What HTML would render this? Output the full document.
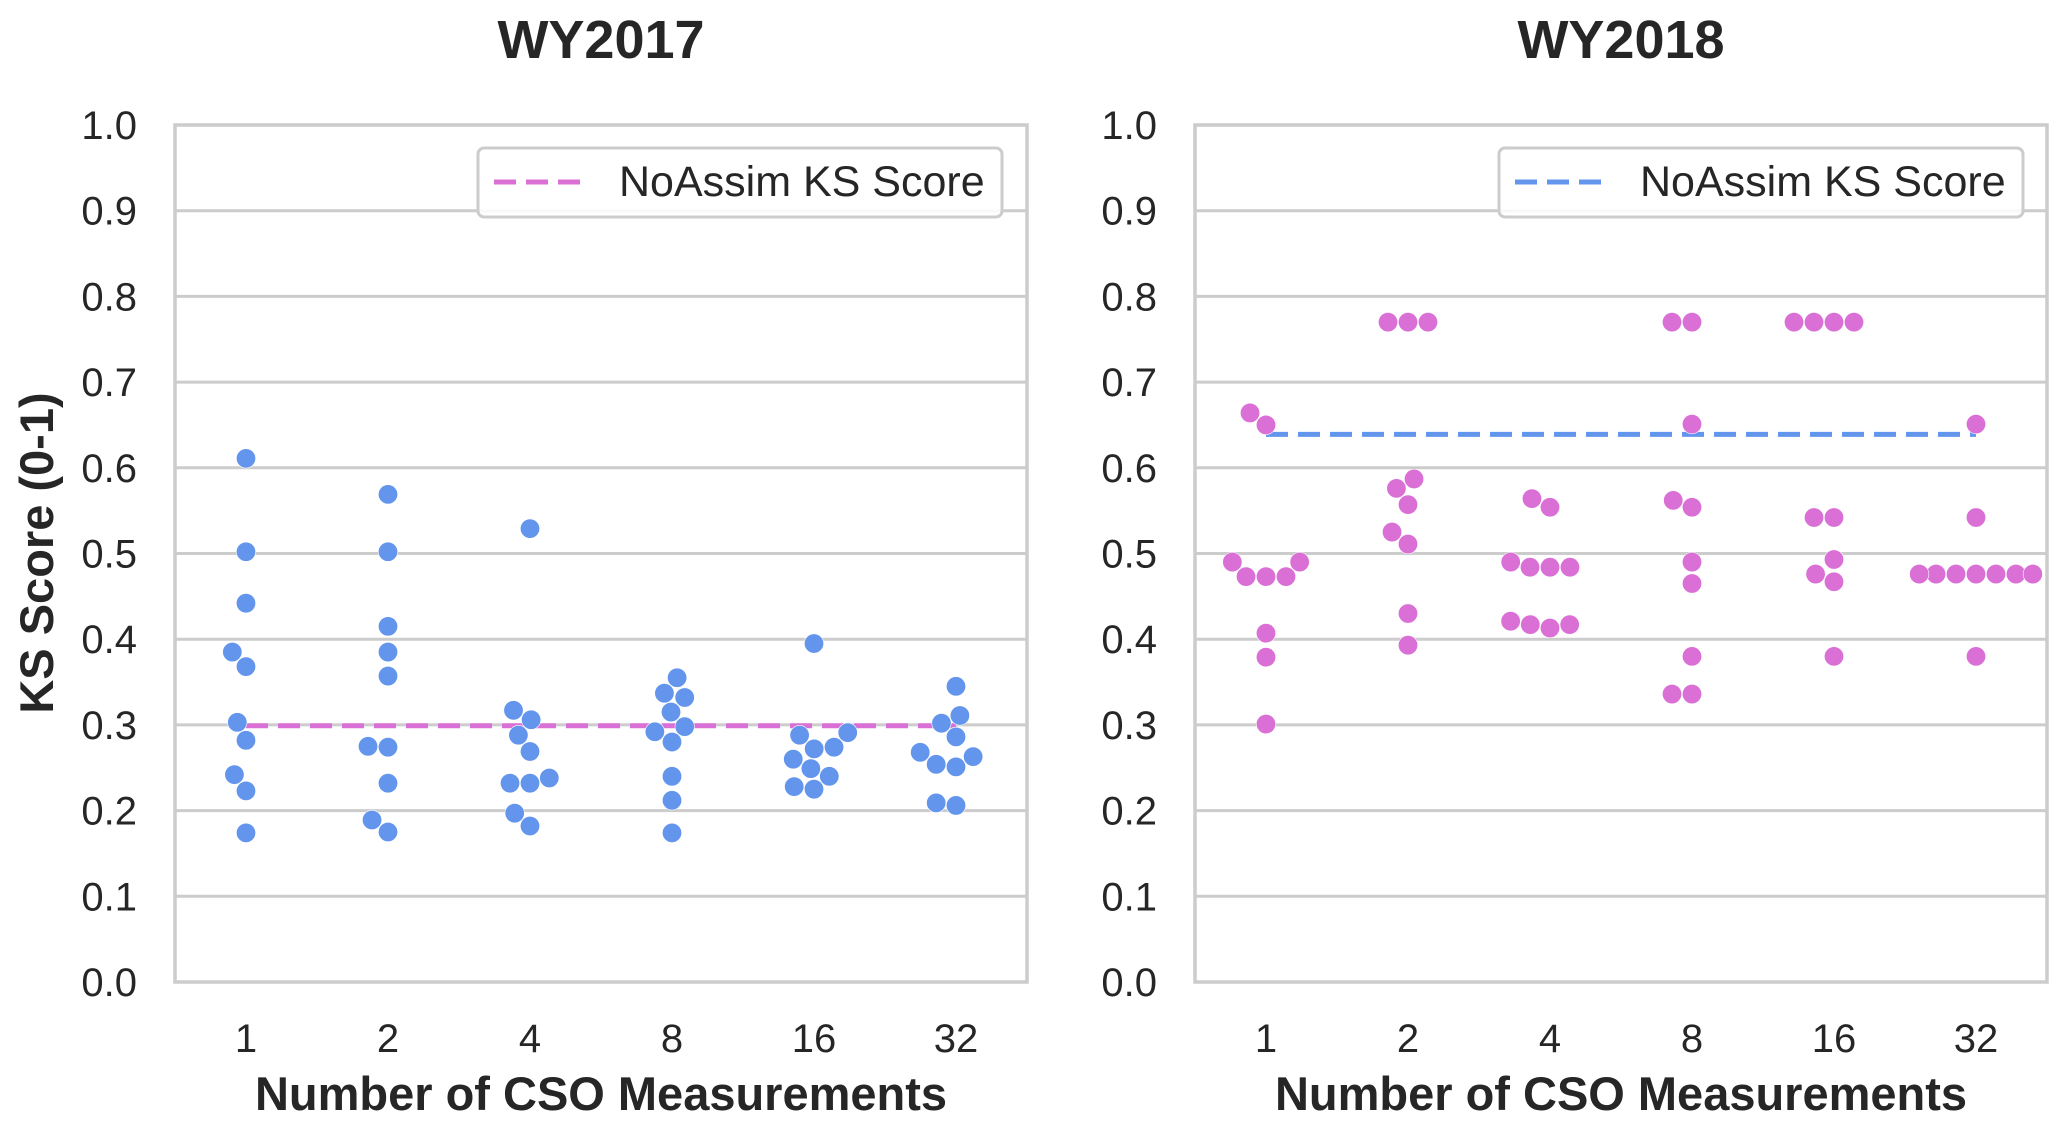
<!DOCTYPE html>
<html><head><meta charset="utf-8">
<style>
html,body{margin:0;padding:0;background:#fff;}
svg{display:block;font-family:"Liberation Sans",Arial,sans-serif;}
</style></head>
<body>
<svg id="chart" width="2067" height="1127" viewBox="0 0 2067 1127" xmlns="http://www.w3.org/2000/svg"></svg>
<script>
const categories = ["1","2","4","8","16","32"];
const yTicks = [0.0,0.1,0.2,0.3,0.4,0.5,0.6,0.7,0.8,0.9,1.0];
const wy2017Values = [
  [0.611,0.502,0.442,0.385,0.368,0.303,0.282,0.242,0.223,0.174],
  [0.569,0.502,0.415,0.385,0.357,0.275,0.274,0.232,0.189,0.175],
  [0.529,0.317,0.306,0.288,0.269,0.238,0.232,0.232,0.197,0.182],
  [0.355,0.337,0.332,0.315,0.298,0.292,0.280,0.240,0.212,0.174],
  [0.395,0.291,0.288,0.272,0.274,0.260,0.249,0.240,0.228,0.225],
  [0.345,0.311,0.302,0.286,0.268,0.263,0.254,0.251,0.209,0.206]
];
const wy2018Values = [
  [0.664,0.650,0.490,0.490,0.473,0.473,0.473,0.407,0.379,0.301],
  [0.770,0.770,0.770,0.587,0.576,0.557,0.525,0.511,0.430,0.393],
  [0.564,0.554,0.490,0.484,0.484,0.484,0.421,0.417,0.413,0.417],
  [0.770,0.770,0.651,0.562,0.554,0.490,0.465,0.380,0.336,0.336],
  [0.770,0.770,0.770,0.770,0.542,0.542,0.493,0.476,0.467,0.380],
  [0.651,0.542,0.476,0.476,0.476,0.476,0.476,0.476,0.476,0.380]
];
const noAssim2017 = 0.299;
const noAssim2018 = 0.639;

const NS = "http://www.w3.org/2000/svg";
const svg = document.getElementById("chart");
function el(tag, attrs, parent){
  const e = document.createElementNS(NS, tag);
  for (const k in attrs) e.setAttribute(k, attrs[k]);
  (parent||svg).appendChild(e);
  return e;
}
const yTop = 125, yBot = 982;
function yScale(v){ return yBot - v*(yBot-yTop); }

function beeswarm(vals, cx, r, halfW){
  const order = vals.map((v,i)=>i).sort((a,b)=>vals[a]-vals[b]);
  const placed = [];
  const d = 2*r*1.03;
  const res = new Array(vals.length);
  order.forEach(i=>{
    const y = yScale(vals[i]);
    const cands = [0];
    placed.forEach(p=>{
      const dy = y - p.y;
      if (Math.abs(dy) < d){
        const dx = Math.sqrt(d*d-dy*dy);
        cands.push(p.x-dx, p.x+dx);
      }
    });
    const idx = cands.map((c,k)=>k).sort((a,b)=>{
      const da=Math.abs(cands[a]), db=Math.abs(cands[b]);
      if (Math.abs(da-db)>0.01) return da-db;
      return cands[a]-cands[b];
    });
    let xo = cands[idx[idx.length-1]];
    for (const k of idx){
      const c = cands[k];
      let ok = true;
      for (const p of placed){
        const dx=c-p.x, dy=y-p.y;
        if (dx*dx+dy*dy < d*d-0.01){ ok=false; break; }
      }
      if (ok){ xo=c; break; }
    }
    placed.push({x:xo,y:y});
    let xs = Math.max(-halfW, Math.min(halfW, xo));
    res[i] = {x:cx+xs, y:y};
  });
  return res;
}

function panel(opts){
  const {x0,x1,title,values,noAssim,pointColor,lineColor,name,showYLabel,legendX} = opts;
  const g = el("g",{});
  
  
  const bw = (x1-x0)/categories.length;
  const xScale = i => x0 + bw*(i+0.5);
  yTicks.forEach(t=>{
    const y = yScale(t);
    const l = el("line",{x1:x0,x2:x1,y1:y,y2:y,stroke:"#cccccc","stroke-width":3},g);
    
    
    const tx = el("text",{x:x0-38,y:y+14,"text-anchor":"end","font-size":40,fill:"#262626"},g);
    
    
    tx.textContent = t.toFixed(1);
  });
  const fr = el("rect",{x:x0,y:yTop,width:x1-x0,height:yBot-yTop,fill:"none",stroke:"#cccccc","stroke-width":3.5},g);
  
  
  categories.forEach((c,i)=>{
    const t = el("text",{x:xScale(i),y:1052,"text-anchor":"middle","font-size":40,fill:"#262626"},g);
    
    
    t.textContent = c;
  });
  const nl = el("line",{x1:xScale(0),x2:xScale(categories.length-1),y1:yScale(noAssim),y2:yScale(noAssim),stroke:lineColor,"stroke-width":5,"stroke-dasharray":"22 10"},g);
  
  
  values.forEach((vals,i)=>{
    const pts = beeswarm(vals, xScale(i), 9.7, bw*0.4);
    pts.forEach(p=>{
      const c = el("circle",{cx:p.x,cy:p.y,r:9.7,fill:pointColor,stroke:"#ffffff","stroke-width":0.6},g);
      
      
    });
  });
  const tt = el("text",{x:(x0+x1)/2,y:58,"text-anchor":"middle","font-size":54,"font-weight":"bold",fill:"#262626"},g);
  
  
  tt.textContent = title;
  const xl = el("text",{x:(x0+x1)/2,y:1110,"text-anchor":"middle","font-size":47,"font-weight":"bold",fill:"#262626"},g);
  
  
  xl.textContent = "Number of CSO Measurements";
  if (showYLabel){
    const yl = el("text",{x:0,y:0,transform:"translate(53,553) rotate(-90)","text-anchor":"middle","font-size":47,"font-weight":"bold",fill:"#262626"},g);
    
    
    yl.textContent = "KS Score (0-1)";
  }
  const lg = el("g",{},g);
  
  
  el("rect",{x:legendX,y:148,width:524,height:69,rx:6,fill:"#ffffff","fill-opacity":0.85,stroke:"#cccccc","stroke-width":3},lg);
  const ll = el("line",{x1:legendX+16,x2:legendX+102,y1:182,y2:182,stroke:lineColor,"stroke-width":5,"stroke-dasharray":"22 10"},lg);
  
  
  const lt = el("text",{x:legendX+141,y:196,"font-size":43,fill:"#262626"},lg);
  
  
  lt.textContent = "NoAssim KS Score";
}
panel({x0:175,x1:1027,title:"WY2017",values:wy2017Values,noAssim:noAssim2017,pointColor:"#6495ED",lineColor:"#DA70D6",name:"panel-wy2017",showYLabel:true,legendX:478});
panel({x0:1195,x1:2047,title:"WY2018",values:wy2018Values,noAssim:noAssim2018,pointColor:"#DA70D6",lineColor:"#6495ED",name:"panel-wy2018",showYLabel:false,legendX:1499});
</script>
</body></html>
